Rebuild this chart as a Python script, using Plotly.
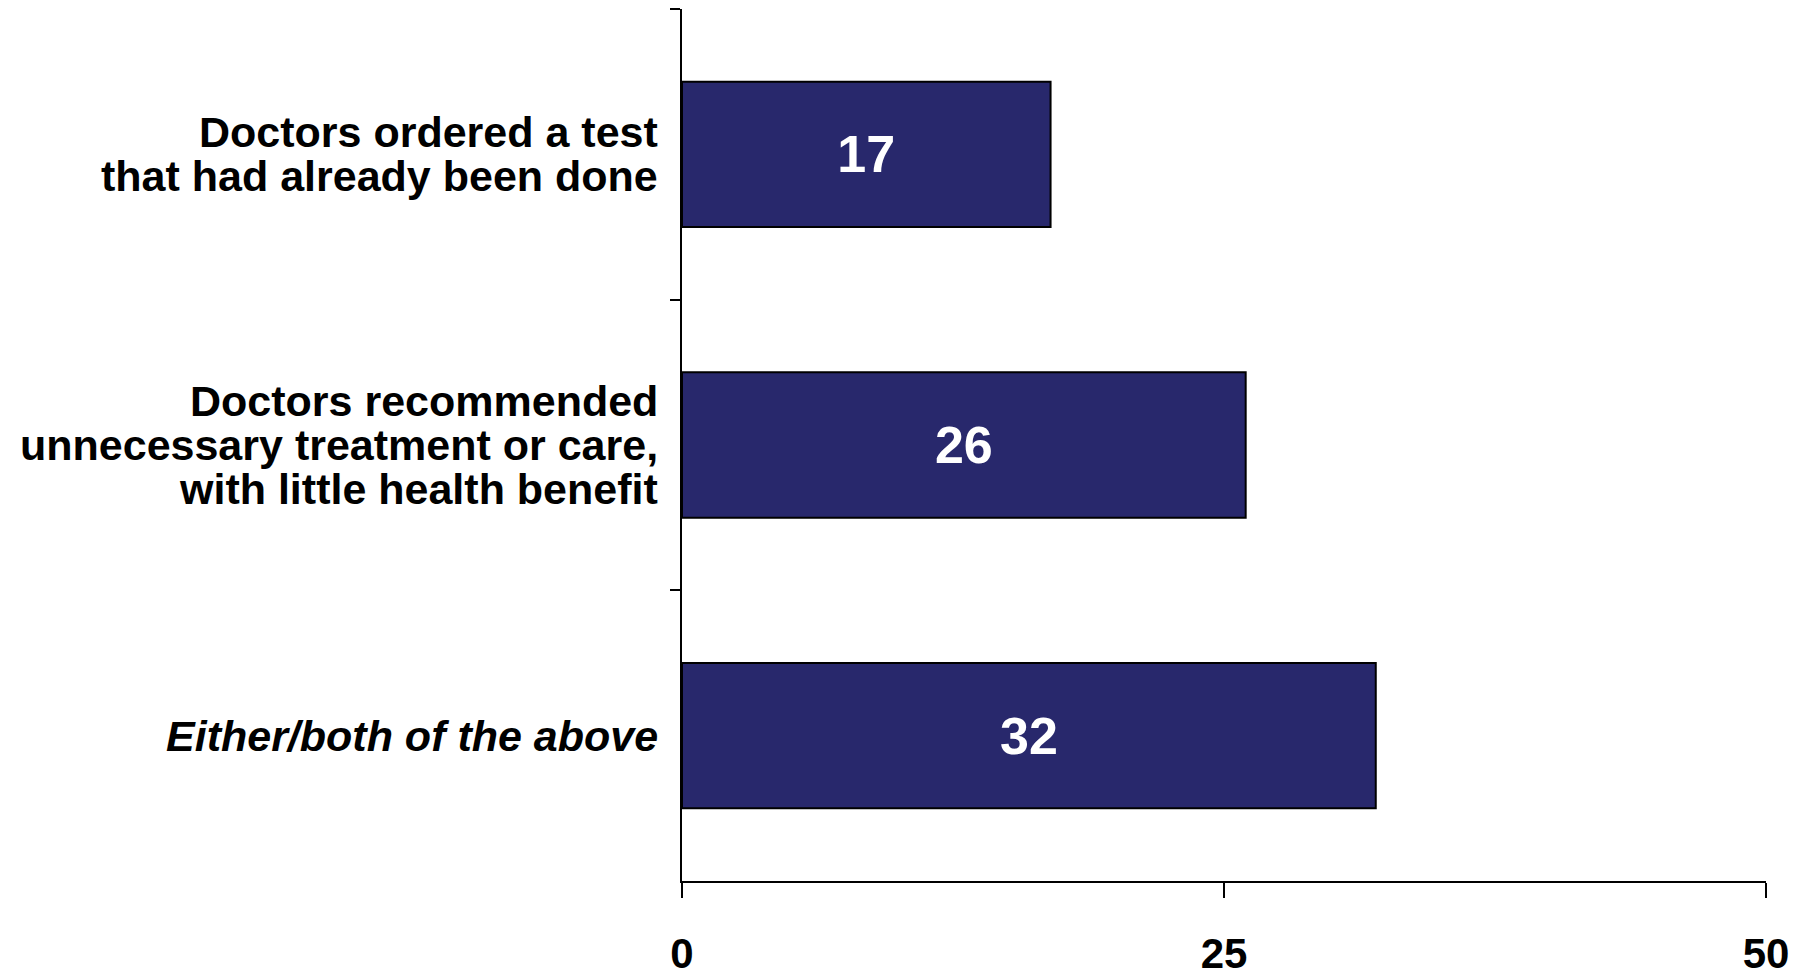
import plotly.graph_objects as go

categories = [
    "Doctors ordered a test<br>that had already been done",
    "Doctors recommended<br>unnecessary treatment or care,<br>with little health benefit",
    "<i>Either/both of the above</i>",
]
values = [17, 26, 32]
x_tick_vals = [0, 25, 50]
x_tick_text = ["0", "25", "50"]

BAR_COLOR = "#28286C"
FONT = "Liberation Sans, Arial, sans-serif"
LABEL_SIZE = 43
LINE_STEP = 44  # px between label lines

fig = go.Figure(
    go.Bar(
        x=values,
        y=categories,
        orientation="h",
        marker=dict(color=BAR_COLOR, line=dict(color="black", width=2)),
        text=[str(v) for v in values],
        textposition="inside",
        insidetextanchor="middle",
        textangle=0,
        textfont=dict(family=FONT, size=52, color="white", weight="bold"),
    )
)

# category labels, one annotation per line so the line spacing matches
annotations = []
for cat in categories:
    lines = cat.split("<br>")
    n = len(lines)
    for i, line in enumerate(lines):
        annotations.append(dict(
            x=0, xref="paper", xanchor="right", xshift=-22,
            y=cat, yref="y", yanchor="middle",
            yshift=((n - 1) / 2 - i) * LINE_STEP,
            text=line, showarrow=False,
            font=dict(family=FONT, size=LABEL_SIZE, color="black", weight="bold"),
        ))

fig.update_layout(
    width=1804,
    height=970,
    margin=dict(l=674, r=46, t=1, b=97, pad=0),
    plot_bgcolor="white",
    paper_bgcolor="white",
    bargap=0.5,
    showlegend=False,
    font=dict(family=FONT, color="black"),
    annotations=annotations,
)

fig.update_xaxes(
    range=[0, 50],
    tickvals=x_tick_vals,
    ticktext=x_tick_text,
    showgrid=False,
    zeroline=False,
    showline=True,
    linecolor="black",
    linewidth=2,
    ticks="outside",
    ticklen=15,
    tickwidth=2,
    tickcolor="black",
    tickfont=dict(family=FONT, size=42, color="black", weight="bold"),
    ticklabelstandoff=20,
    automargin=False,
)

fig.update_yaxes(
    autorange="reversed",
    type="category",
    showgrid=False,
    zeroline=False,
    showline=True,
    linecolor="black",
    linewidth=2,
    ticks="outside",
    tickson="boundaries",
    ticklen=10,
    tickwidth=2,
    tickcolor="black",
    showticklabels=False,
    automargin=False,
)

fig.write_html("out.html")
